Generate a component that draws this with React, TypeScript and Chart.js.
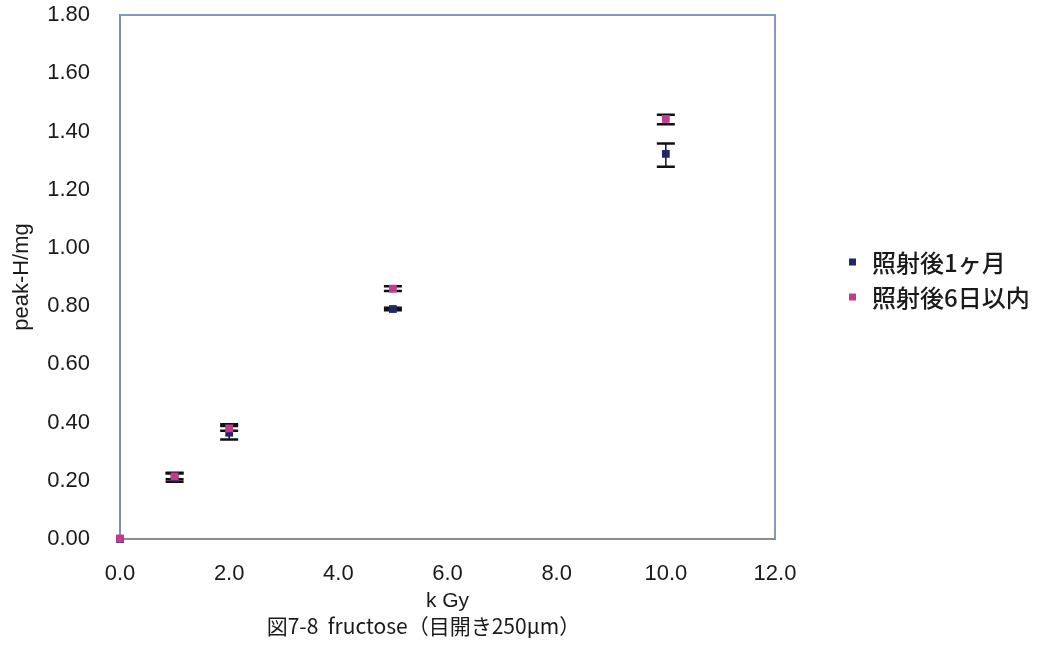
import React, { useEffect, useRef } from "react";
import { Chart, registerables } from "chart.js";

Chart.register(...registerables);

// Irradiation dose (kGy)
const doseKGy = [0, 1, 2, 5, 10];

// Series labels
const seriesNames = ["照射後1ヶ月", "照射後6日以内"];
const seriesColors = ["#1f2768", "#c53b8c"];

// One month after irradiation: mean and error range (peak-H/mg)
const oneMonthMean = [0, 0.21, 0.365, 0.79, 1.323];
const oneMonthLow = [0, 0.197, 0.342, 0.786, 1.279];
const oneMonthHigh = [0, 0.225, 0.388, 0.794, 1.359];

// Within 6 days after irradiation: mean and error range (peak-H/mg)
const sixDaysMean = [0.002, 0.215, 0.38, 0.86, 1.443];
const sixDaysLow = [0.002, 0.205, 0.372, 0.852, 1.425];
const sixDaysHigh = [0.002, 0.228, 0.394, 0.868, 1.457];

// Axis ranges and labels
const xRange = [0, 12];
const xStep = 2;
const yRange = [0, 1.8];
const yStep = 0.2;
const xAxisTitle = "k Gy";
const yAxisTitle = "peak-H/mg";
const caption = "図7-8  fructose（目開き250μm）";

const tickFont = { family: "'Liberation Sans', Arial, sans-serif", size: 22 };
const cjkFamily = "'Noto Sans CJK JP', 'Noto Sans', sans-serif";

type ErrPoint = { x: number; y: number; lo: number; hi: number };

function buildPoints(mean: number[], lo: number[], hi: number[]): ErrPoint[] {
  return doseKGy.map((d, i) => ({ x: d, y: mean[i], lo: lo[i], hi: hi[i] }));
}

// Vertical error bars with caps, drawn underneath the markers
const errorBarPlugin = {
  id: "errorBars",
  beforeDatasetsDraw(chart: any) {
    const { ctx, scales } = chart;
    const xs = scales.x;
    const ys = scales.y;
    ctx.save();
    ctx.strokeStyle = "#111111";
    chart.data.datasets.forEach((ds: any) => {
      (ds.data as ErrPoint[]).forEach((p) => {
        if (p.hi - p.lo <= 0) return;
        const px = xs.getPixelForValue(p.x);
        const top = ys.getPixelForValue(p.hi);
        const bot = ys.getPixelForValue(p.lo);
        ctx.lineWidth = 1.5;
        ctx.beginPath();
        ctx.moveTo(px, top);
        ctx.lineTo(px, bot);
        ctx.stroke();
        ctx.lineWidth = 2.5;
        ctx.beginPath();
        ctx.moveTo(px - 9, top);
        ctx.lineTo(px + 9, top);
        ctx.moveTo(px - 9, bot);
        ctx.lineTo(px + 9, bot);
        ctx.stroke();
      });
    });
    ctx.restore();
  },
};

// Top and right edges of the plot frame
const framePlugin = {
  id: "plotFrame",
  beforeDatasetsDraw(chart: any) {
    const { ctx, chartArea } = chart;
    ctx.save();
    ctx.strokeStyle = "#8797c2";
    ctx.lineWidth = 2;
    ctx.beginPath();
    ctx.moveTo(chartArea.left, chartArea.top);
    ctx.lineTo(chartArea.right, chartArea.top);
    ctx.lineTo(chartArea.right, chartArea.bottom);
    ctx.stroke();
    ctx.restore();
  },
};

// Legend to the right of the plot
const sideLegendPlugin = {
  id: "sideLegend",
  afterDraw(chart: any) {
    const { ctx, chartArea } = chart;
    const midY = (chartArea.top + chartArea.bottom) / 2 + 2.5;
    const rowGap = 35;
    const boxX = chartArea.right + 74;
    const textX = chartArea.right + 97;
    ctx.save();
    ctx.font = `500 24px ${cjkFamily}`;
    ctx.textBaseline = "middle";
    ctx.textAlign = "left";
    chart.data.datasets.forEach((ds: any, i: number) => {
      const y = midY + (i - 0.5) * rowGap;
      ctx.fillStyle = ds.backgroundColor;
      ctx.fillRect(boxX, y - 3.5, 7, 7);
      ctx.fillStyle = "#1a1a1a";
      ctx.fillText(ds.label, textX, y + 1);
    });
    ctx.restore();
  },
};

// Figure caption under the axis title
const captionPlugin = {
  id: "caption",
  afterDraw(chart: any) {
    const { ctx, chartArea, height } = chart;
    ctx.save();
    ctx.font = `21px ${cjkFamily}`;
    ctx.fillStyle = "#1a1a1a";
    ctx.textAlign = "center";
    ctx.textBaseline = "middle";
    ctx.fillText(caption, (chartArea.left + chartArea.right) / 2 - 24, height - 30);
    ctx.restore();
  },
};

export default function App() {
  const canvasRef = useRef<HTMLCanvasElement | null>(null);

  useEffect(() => {
    const canvas = canvasRef.current;
    if (!canvas) return;
    const datasets = [
      {
        label: seriesNames[0],
        data: buildPoints(oneMonthMean, oneMonthLow, oneMonthHigh),
        backgroundColor: seriesColors[0],
        borderColor: seriesColors[0],
        order: 2,
      },
      {
        label: seriesNames[1],
        data: buildPoints(sixDaysMean, sixDaysLow, sixDaysHigh),
        backgroundColor: seriesColors[1],
        borderColor: seriesColors[1],
        order: 1,
      },
    ].map((d) => ({
      ...d,
      pointStyle: "rect" as const,
      pointRadius: 5.5,
      pointBorderWidth: 0,
      showLine: false,
      clip: false as const,
    }));

    const chart = new Chart(canvas, {
      type: "scatter",
      data: { datasets },
      options: {
        animation: false,
        responsive: true,
        maintainAspectRatio: false,
        layout: { padding: { top: 15, right: 274, bottom: 42, left: 0 } },
        plugins: {
          legend: { display: false },
          title: { display: false },
          tooltip: { enabled: false },
        },
        scales: {
          x: {
            type: "linear",
            min: xRange[0],
            max: xRange[1],
            grid: { display: false, drawTicks: false },
            border: { display: true, color: "#8c8c8c", width: 2 },
            ticks: {
              stepSize: xStep,
              padding: 22,
              color: "#1a1a1a",
              font: tickFont,
              callback: (v: any) => Number(v).toFixed(1),
            },
            title: {
              display: true,
              text: xAxisTitle,
              color: "#1a1a1a",
              font: { family: "'Liberation Sans', Arial, sans-serif", size: 21 },
              padding: { top: 3, bottom: 0 },
            },
            afterFit: (s: any) => {
              s.height = 75;
              s.paddingLeft = 0;
              s.paddingRight = 0;
            },
          },
          y: {
            type: "linear",
            min: yRange[0],
            max: yRange[1],
            grid: { display: false, drawTicks: false },
            border: { display: true, color: "#7f8fb8", width: 2 },
            ticks: {
              stepSize: yStep,
              padding: 30,
              color: "#1a1a1a",
              font: tickFont,
              callback: (v: any) => Number(v).toFixed(2),
            },
            title: {
              display: true,
              text: yAxisTitle,
              color: "#1a1a1a",
              font: { family: "'Liberation Sans', Arial, sans-serif", size: 22 },
              padding: { top: 9, bottom: 0 },
            },
            afterFit: (s: any) => {
              s.width = 120;
              s.paddingTop = 0;
              s.paddingBottom = 0;
            },
          },
        },
      },
      plugins: [framePlugin, errorBarPlugin, sideLegendPlugin, captionPlugin],
    });
    return () => chart.destroy();
  }, []);

  return (
    <div
      style={{
        position: "absolute",
        left: 0,
        top: 0,
        width: 1049,
        height: 656,
        background: "#ffffff",
      }}
    >
      <canvas ref={canvasRef} />
    </div>
  );
}
